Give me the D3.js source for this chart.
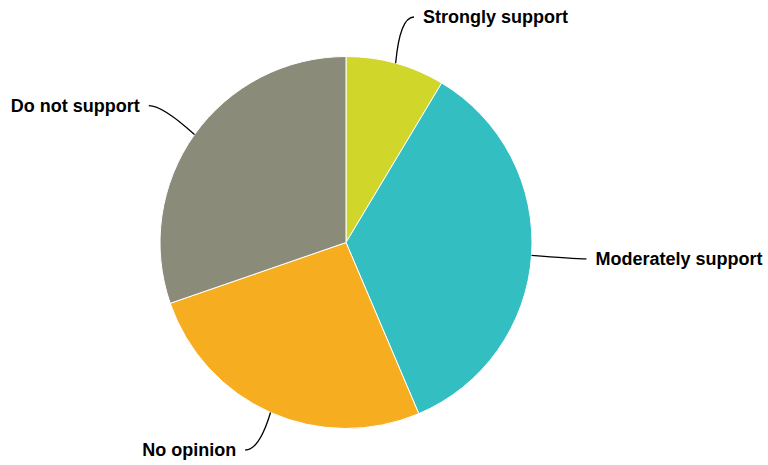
<!DOCTYPE html>
<html>
<head>
<meta charset="utf-8">
<script src="https://cdn.jsdelivr.net/npm/d3@7"></script>
<style>
  html, body { margin: 0; padding: 0; background: #ffffff; }
  svg { display: block; font-family: "Liberation Sans", Arial, sans-serif; }
</style>
</head>
<body>
<svg id="chart" width="768" height="465"></svg>
<script>
// Survey responses (percent of respondents)
const categories = ["Strongly support", "Moderately support", "No opinion", "Do not support"];
const values = [8.6, 35.0, 26.1, 30.3];
const colors = ["#d0d62a", "#33bec1", "#f6ae20", "#8a8b78"];

const width = 768, height = 465;
const cx = 346, cy = 242.5, radius = 186;
const labelDistance = 50;

const svg = d3.select("#chart");
const g = svg.append("g").attr("transform", `translate(${cx},${cy})`);

const pie = d3.pie().sort(null).value(d => d.value);
const arcs = pie(categories.map((c, i) => ({ name: c, value: values[i], color: colors[i] })));
const arc = d3.arc().innerRadius(0).outerRadius(radius);

g.selectAll("path.slice")
  .data(arcs)
  .join("path")
  .attr("class", "slice")
  .attr("d", arc)
  .attr("fill", d => d.data.color)
  .attr("stroke", "#ffffff")
  .attr("stroke-width", 1)
  .attr("stroke-linejoin", "round");

// Label placement: anchor on an outer ring at the slice mid-angle, kept inside the canvas
const labels = arcs.map(d => {
  const a = (d.startAngle + d.endAngle) / 2;
  const side = Math.sin(a) >= 0 ? 1 : -1;
  const edge = [Math.sin(a) * radius, -Math.cos(a) * radius];
  let x = Math.sin(a) * (radius + labelDistance);
  let y = -Math.cos(a) * (radius + labelDistance);
  y = Math.max(-cy + 17, Math.min(height - cy - 15, y));
  return { d, side, edge, end: [x + side * 5, y] };
});

g.selectAll("path.connector")
  .data(labels)
  .join("path")
  .attr("class", "connector")
  .attr("fill", "none")
  .attr("stroke", "#000000")
  .attr("stroke-width", 1.3)
  .attr("d", l => {
    const [x0, y0] = l.edge;
    const [x1, y1] = l.end;
    const c = [x1 - l.side * 14, y1];
    return `M${x0},${y0}Q${c[0]},${c[1]} ${x1},${y1}`;
  });

g.selectAll("text.label")
  .data(labels)
  .join("text")
  .attr("class", "label")
  .attr("x", l => l.end[0] + l.side * 9)
  .attr("y", l => l.end[1])
  .attr("dy", "0.35em")
  .attr("text-anchor", l => l.side > 0 ? "start" : "end")
  .attr("font-size", 18)
  .attr("font-weight", "bold")
  .attr("fill", "#000000")
  .text(l => l.d.data.name);
</script>
</body>
</html>
